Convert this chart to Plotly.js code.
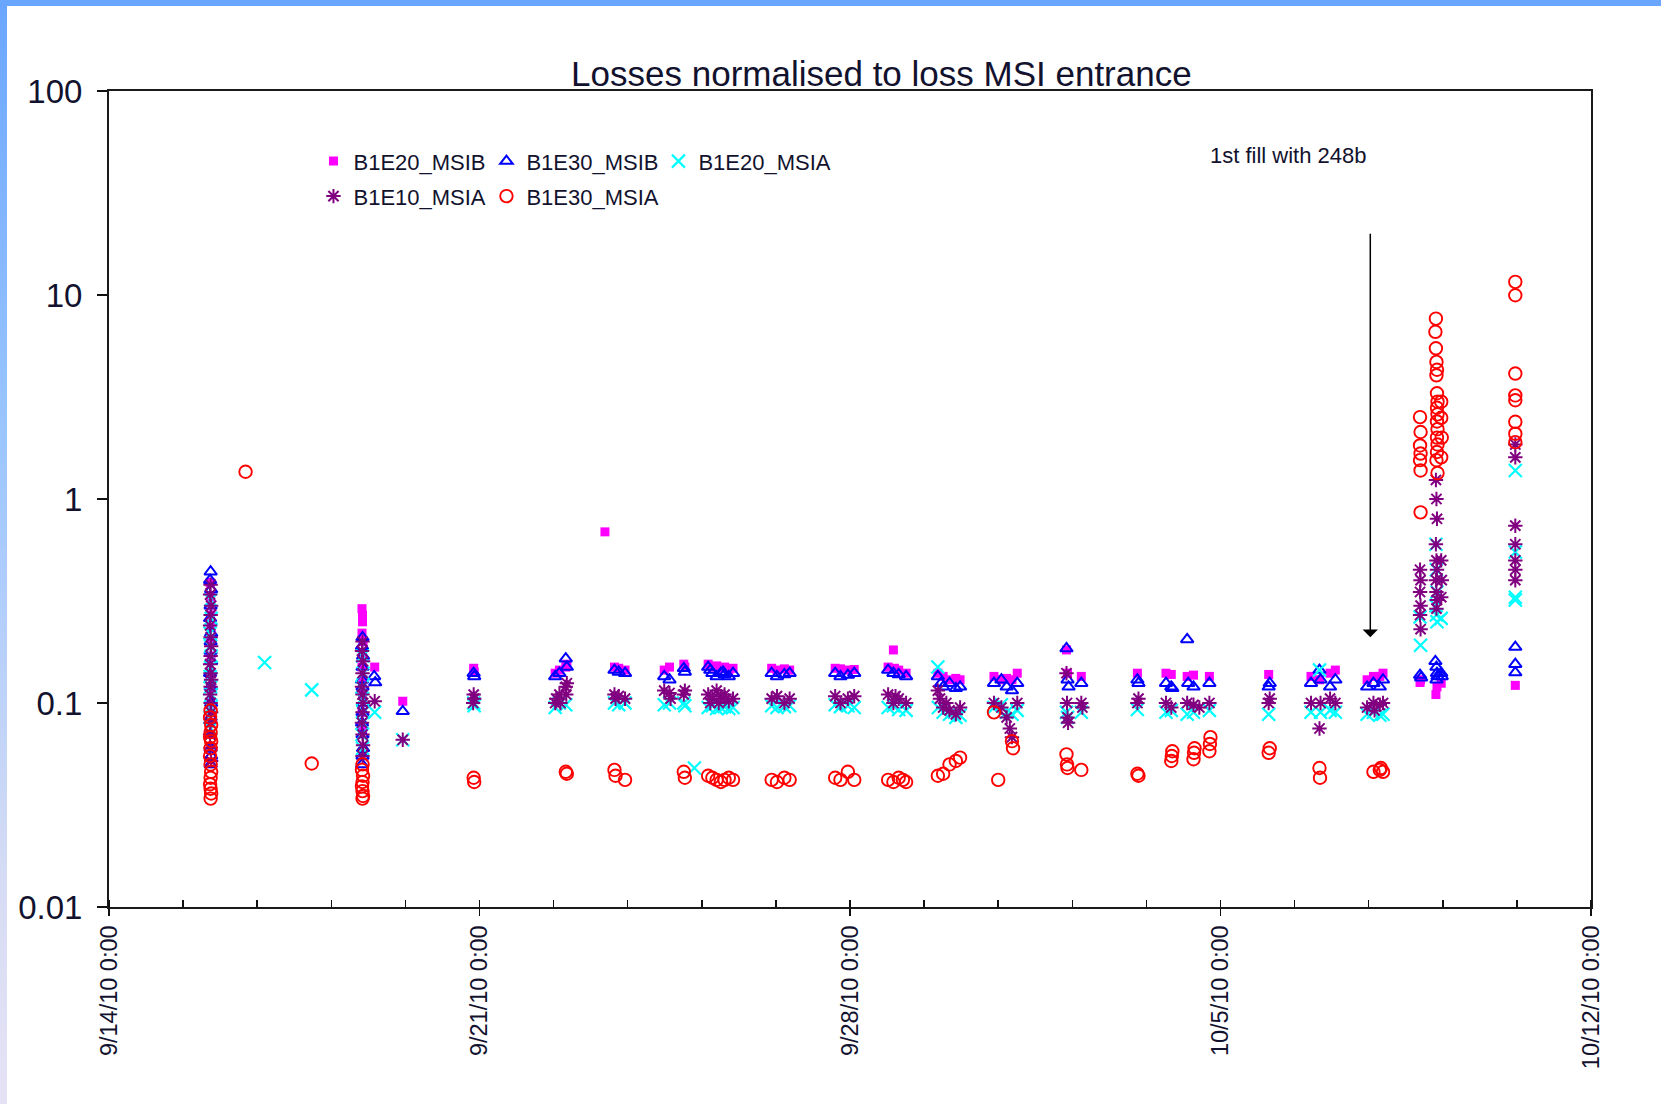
<!DOCTYPE html>
<html>
<head>
<meta charset="utf-8">
<script src="https://cdn.plot.ly/plotly-3.0.1.min.js"></script>
<style>
  html, body { margin: 0; padding: 0; background: #ffffff; overflow: hidden; }
  #wrap { position: relative; width: 1661px; height: 1104px; }
  #chart { position: absolute; left: 0; top: 0; width: 1661px; height: 1104px; }
  #topband { position: absolute; left: 0; top: 0; width: 1661px; height: 6px; background: #6aa6fe; }
  #leftband { position: absolute; left: 0; top: 0; width: 7px; height: 1104px;
              background: linear-gradient(#6aa6fe, #9cc6ff 40%, #d6dcf4 80%, #e6e2f6); }
</style>
</head>
<body>
<div id="wrap">
  <div id="chart"></div>
  <div id="topband"></div>
  <div id="leftband"></div>
</div>
<script>
// ---- data: [day offset from 9/14/10 0:00, value] ----
const seriesNames = ['B1E20_MSIB', 'B1E30_MSIB', 'B1E20_MSIA', 'B1E10_MSIA', 'B1E30_MSIA'];
const xTickLabels = ['9/14/10 0:00', '9/21/10 0:00', '9/28/10 0:00', '10/5/10 0:00', '10/12/10 0:00'];
const yTickLabels = ['0.01', '0.1', '1', '10', '100'];
const yTickValues = [0.01, 0.1, 1, 10, 100];

const e20b = [
 [1.91,0.39],[1.92,0.33],[1.92,0.27],[1.93,0.235],[1.92,0.2],[1.93,0.17],[1.92,0.14],[1.93,0.12],[1.92,0.1],
 [4.78,0.29],[4.79,0.27],[4.79,0.25],[4.78,0.22],[4.80,0.2],[4.79,0.17],[4.78,0.15],[4.80,0.13],[4.79,0.11],[4.78,0.09],[4.79,0.075],
 [5.02,0.15],[5.55,0.102],
 [6.89,0.148],[6.90,0.142],
 [8.43,0.14],[8.51,0.145],[8.63,0.15],[8.65,0.155],
 [9.37,0.69],
 [9.55,0.15],[9.63,0.148],[9.75,0.145],
 [10.49,0.145],[10.59,0.15],
 [10.86,0.155],[10.88,0.15],
 [11.32,0.155],[11.40,0.15],[11.48,0.152],[11.56,0.148],[11.63,0.15],[11.71,0.145],[11.79,0.148],
 [12.52,0.148],[12.62,0.145],[12.76,0.147],[12.86,0.145],
 [13.72,0.148],[13.82,0.147],[13.96,0.145],[14.08,0.146],
 [14.72,0.15],[14.82,0.182],[14.84,0.148],[14.92,0.145],[15.06,0.14],
 [15.66,0.14],[15.76,0.135],[15.88,0.13],[16.00,0.132],[16.08,0.13],
 [16.72,0.135],[16.86,0.13],[16.96,0.132],[17.06,0.13],[17.16,0.14],
 [18.09,0.182],[18.11,0.14],[18.37,0.135],
 [19.43,0.14],
 [19.97,0.14],[20.07,0.138],[20.37,0.135],[20.49,0.137],[20.79,0.135],
 [21.91,0.138],
 [22.71,0.135],[22.87,0.13],[23.07,0.14],[23.17,0.145],
 [23.77,0.13],[23.89,0.135],[24.01,0.135],[24.07,0.14],
 [24.77,0.126],[24.78,0.13],
 [25.07,0.11],[25.09,0.12],[25.17,0.125],
 [26.57,0.122]
];

const e30b = [
 [1.92,0.44],[1.91,0.4],[1.93,0.36],[1.92,0.3],[1.91,0.26],[1.93,0.22],[1.92,0.2],[1.92,0.18],[1.93,0.16],[1.91,0.14],[1.92,0.12],[1.93,0.1],[1.92,0.085],[1.91,0.07],[1.92,0.06],[1.93,0.055],[1.92,0.05],
 [4.79,0.21],[4.78,0.19],[4.80,0.17],[4.79,0.15],[4.78,0.13],[4.79,0.12],[4.80,0.1],[4.79,0.09],[4.78,0.08],[4.79,0.07],[4.80,0.06],[4.79,0.055],[4.78,0.05],
 [5.03,0.126],[5.01,0.135],[5.55,0.091],
 [6.89,0.14],[6.90,0.135],
 [8.43,0.135],[8.51,0.14],[8.63,0.165],[8.65,0.15],
 [9.55,0.145],[9.63,0.142],[9.75,0.14],
 [10.49,0.135],[10.59,0.13],
 [10.86,0.148],[10.88,0.142],
 [11.32,0.15],[11.36,0.145],[11.40,0.14],[11.48,0.135],[11.56,0.14],[11.60,0.142],[11.63,0.138],[11.71,0.135],[11.79,0.14],
 [12.52,0.14],[12.62,0.135],[12.76,0.138],[12.86,0.14],
 [13.72,0.14],[13.82,0.135],[13.96,0.137],[14.08,0.14],
 [14.72,0.145],[14.82,0.14],[14.92,0.138],[15.06,0.135],
 [15.66,0.135],[15.72,0.125],[15.76,0.12],[15.88,0.125],[16.00,0.118],[16.08,0.12],
 [16.72,0.125],[16.86,0.13],[16.96,0.12],[17.06,0.115],[17.16,0.125],
 [18.09,0.185],[18.11,0.13],[18.13,0.12],[18.37,0.125],
 [19.43,0.13],[19.45,0.125],
 [19.97,0.125],[20.07,0.12],[20.09,0.118],[20.37,0.205],[20.39,0.125],[20.49,0.12],[20.79,0.125],
 [21.91,0.12],[21.93,0.125],
 [22.71,0.125],[22.87,0.145],[22.89,0.13],[23.07,0.12],[23.17,0.13],
 [23.77,0.12],[23.89,0.125],[24.01,0.12],[24.07,0.13],
 [24.77,0.137],[24.79,0.133],
 [25.06,0.16],[25.08,0.15],[25.09,0.14],[25.10,0.135],[25.08,0.13],[25.17,0.14],[25.18,0.135],
 [26.57,0.188],[26.57,0.155],[26.57,0.141]
];

const e20a = [
 [1.92,0.32],[1.93,0.26],[1.91,0.22],[1.92,0.19],[1.93,0.17],[1.92,0.15],[1.91,0.135],[1.92,0.12],[1.93,0.11],[1.92,0.095],[1.91,0.085],[1.92,0.075],
 [2.94,0.158],[3.83,0.116],
 [4.79,0.17],[4.80,0.14],[4.78,0.12],[4.79,0.105],[4.80,0.09],[4.79,0.08],[4.78,0.07],[4.79,0.06],
 [5.02,0.09],[5.55,0.066],
 [6.89,0.1],[6.90,0.097],
 [8.43,0.095],[8.51,0.1],[8.63,0.098],
 [9.55,0.1],[9.63,0.098],[9.75,0.1],
 [10.49,0.098],[10.59,0.1],
 [10.86,0.1],[10.88,0.097],[11.06,0.048],
 [11.32,0.095],[11.40,0.097],[11.48,0.094],[11.56,0.095],[11.63,0.096],[11.71,0.094],[11.79,0.095],
 [12.52,0.097],[12.62,0.095],[12.76,0.096],[12.86,0.097],
 [13.72,0.098],[13.82,0.096],[13.96,0.097],[14.08,0.095],
 [14.72,0.095],[14.82,0.097],[14.92,0.093],[15.06,0.092],
 [15.66,0.15],[15.67,0.095],[15.76,0.09],[15.88,0.088],[16.00,0.085],[16.08,0.087],
 [16.72,0.095],[16.86,0.098],[16.96,0.09],[17.06,0.088],[17.16,0.092],
 [18.09,0.09],[18.11,0.085],[18.37,0.09],
 [19.43,0.093],
 [19.97,0.09],[20.07,0.092],[20.37,0.088],[20.49,0.09],[20.79,0.092],
 [21.91,0.088],
 [22.71,0.09],[22.87,0.145],[22.89,0.09],[23.07,0.092],[23.17,0.09],
 [23.77,0.088],[23.89,0.09],[24.01,0.087],[24.07,0.088],
 [24.77,0.264],[24.78,0.192],
 [25.07,0.6],[25.08,0.45],[25.09,0.35],[25.07,0.3],[25.08,0.27],[25.09,0.25],[25.17,0.26],
 [26.57,1.38],[26.57,0.55],[26.57,0.33],[26.57,0.32]
];

const e10a = [
 [1.92,0.38],[1.91,0.34],[1.93,0.3],[1.92,0.27],[1.91,0.24],[1.92,0.21],[1.93,0.19],[1.92,0.17],[1.91,0.155],[1.92,0.14],[1.93,0.13],[1.92,0.12],[1.91,0.11],[1.92,0.1],[1.93,0.09],[1.92,0.08],[1.91,0.07],[1.92,0.06],[1.93,0.052],
 [4.79,0.2],[4.78,0.18],[4.80,0.16],[4.79,0.14],[4.78,0.12],[4.79,0.11],[4.80,0.1],[4.79,0.09],[4.78,0.08],[4.79,0.07],[4.80,0.062],[4.79,0.055],
 [5.02,0.102],[5.55,0.066],
 [6.89,0.11],[6.90,0.105],[6.88,0.1],
 [8.43,0.1],[8.45,0.105],[8.51,0.11],[8.53,0.1],[8.63,0.12],[8.65,0.125],[8.64,0.11],
 [9.55,0.11],[9.57,0.105],[9.63,0.108],[9.75,0.105],
 [10.49,0.115],[10.59,0.112],[10.61,0.105],
 [10.86,0.11],[10.88,0.115],
 [11.32,0.11],[11.36,0.1],[11.40,0.105],[11.48,0.115],[11.52,0.1],[11.56,0.108],[11.63,0.11],[11.71,0.102],[11.79,0.105],
 [12.52,0.105],[12.62,0.108],[12.76,0.1],[12.86,0.105],
 [13.72,0.108],[13.82,0.1],[13.96,0.105],[14.08,0.108],
 [14.72,0.11],[14.82,0.1],[14.86,0.108],[14.92,0.105],[15.06,0.1],
 [15.66,0.115],[15.70,0.105],[15.76,0.095],[15.82,0.1],[15.88,0.092],[16.00,0.088],[16.08,0.095],
 [16.72,0.1],[16.86,0.095],[16.96,0.085],[17.02,0.075],[17.06,0.068],[17.16,0.1],
 [18.09,0.14],[18.10,0.1],[18.11,0.085],[18.12,0.08],[18.37,0.1],[18.39,0.095],
 [19.43,0.1],[19.45,0.105],
 [19.97,0.1],[20.07,0.095],[20.37,0.1],[20.49,0.098],[20.60,0.095],[20.79,0.1],
 [21.91,0.1],[21.93,0.105],
 [22.71,0.1],[22.87,0.075],[22.89,0.1],[23.07,0.105],[23.17,0.1],
 [23.77,0.095],[23.89,0.1],[23.91,0.092],[24.01,0.098],[24.07,0.1],
 [24.77,0.45],[24.78,0.4],[24.77,0.35],[24.78,0.3],[24.77,0.27],[24.78,0.23],
 [25.07,1.24],[25.08,1.0],[25.09,0.8],[25.07,0.6],[25.08,0.5],[25.09,0.45],[25.07,0.4],[25.08,0.35],[25.09,0.32],[25.08,0.29],[25.17,0.5],[25.18,0.4],[25.17,0.33],
 [26.57,1.85],[26.57,1.6],[26.57,0.74],[26.57,0.6],[26.57,0.5],[26.57,0.45],[26.57,0.4]
];

const e30a = [
 [1.92,0.092],[1.91,0.085],[1.93,0.078],[1.92,0.072],[1.91,0.068],[1.93,0.065],[1.92,0.06],[1.91,0.055],[1.92,0.05],[1.93,0.046],[1.92,0.043],[1.91,0.04],[1.92,0.038],[1.93,0.036],[1.92,0.034],
 [2.58,1.36],[3.83,0.0505],
 [4.79,0.05],[4.78,0.047],[4.80,0.044],[4.79,0.041],[4.78,0.039],[4.79,0.037],[4.80,0.035],[4.79,0.034],
 [6.89,0.043],[6.90,0.041],
 [8.63,0.046],[8.65,0.045],
 [9.55,0.047],[9.57,0.044],[9.75,0.042],
 [10.86,0.046],[10.88,0.043],
 [11.32,0.044],[11.40,0.043],[11.48,0.042],[11.56,0.041],[11.63,0.042],[11.71,0.043],[11.79,0.042],
 [12.52,0.042],[12.62,0.041],[12.76,0.043],[12.86,0.042],
 [13.72,0.043],[13.82,0.042],[13.96,0.046],[14.08,0.042],
 [14.72,0.042],[14.82,0.041],[14.92,0.043],[15.00,0.042],[15.06,0.041],
 [15.66,0.044],[15.76,0.045],[15.88,0.05],[16.00,0.052],[16.08,0.054],
 [16.72,0.09],[16.80,0.042],[17.06,0.065],[17.08,0.06],
 [18.09,0.056],[18.10,0.05],[18.11,0.048],[18.37,0.047],
 [19.43,0.045],[19.45,0.044],
 [20.07,0.052],[20.08,0.055],[20.09,0.058],[20.49,0.053],[20.50,0.057],[20.51,0.06],[20.79,0.058],[20.80,0.063],[20.81,0.068],
 [21.91,0.057],[21.93,0.06],
 [22.87,0.048],[22.88,0.043],
 [23.89,0.046],[24.01,0.047],[24.03,0.048],[24.07,0.046],
 [24.77,2.52],[24.78,2.13],[24.77,1.83],[24.78,1.67],[24.77,1.55],[24.78,1.38],[24.78,0.86],
 [25.07,7.66],[25.06,6.6],[25.07,5.48],[25.08,4.7],[25.09,4.3],[25.08,4.04],[25.09,3.3],[25.10,3.0],[25.09,2.8],[25.10,2.6],[25.09,2.4],[25.10,2.2],[25.09,2.0],[25.10,1.85],[25.09,1.7],[25.08,1.55],[25.10,1.34],[25.17,3.0],[25.17,2.5],[25.18,2.0],[25.17,1.6],
 [26.57,11.6],[26.57,9.97],[26.57,4.12],[26.57,3.22],[26.57,3.05],[26.57,2.39],[26.57,2.09],[26.57,1.9]
];

// annotation data
const arrowDay = 23.83, arrowTipValue = 0.21;
const annoText = '1st fill with 248b';

// ---- build ----
const DAY = 86400000;
const BASE = Date.UTC(2010, 8, 14);
const toX = d => BASE + d * DAY;
const xs = arr => arr.map(p => toX(p[0]));
const ys = arr => arr.map(p => p[1]);

const TXT = '#12122e';
const FONT = 'Liberation Sans, Arial, sans-serif';

const styles = [
  {data: e20b, marker: {symbol: 'square', size: 9, color: '#ff00ff'}, legend: 'legend'},
  {data: e30b, marker: {symbol: 'triangle-up-open', size: 11, color: '#0000ff', line: {width: 2}}, legend: 'legend2'},
  {data: e20a, marker: {symbol: 'x-thin-open', size: 13, color: '#00ffff', line: {width: 2.2, color: '#00ffff'}}, legend: 'legend3'},
  {data: e10a, marker: {symbol: 'asterisk-open', size: 12, color: '#800080', line: {width: 2, color: '#800080'}}, legend: 'legend4'},
  {data: e30a, marker: {symbol: 'circle-open', size: 12.5, color: '#ff0000', line: {width: 1.9}}, legend: 'legend5'}
];

const traces = styles.map((s, i) => ({
  type: 'scatter', mode: 'markers', name: seriesNames[i],
  x: xs(s.data), y: ys(s.data), marker: s.marker, legend: s.legend,
  xaxis: 'x', yaxis: 'y', hoverinfo: 'x+y+name'
}));

const W = 1661, H = 1104;
const L = 108.5, R = 1590.7, T = 90.7, B = 906.7;
const px = v => (v - L) / (R - L);
const py = v => (B - v) / (B - T);

function leg(xpx, ypx) {
  return {x: px(xpx), y: py(ypx), xanchor: 'left', yanchor: 'middle', orientation: 'h',
          bgcolor: 'rgba(0,0,0,0)', borderwidth: 0, font: {family: FONT, size: 22, color: TXT},
          itemwidth: 30, tracegroupgap: 0};
}

const layout = {
  width: W, height: H,
  margin: {l: L, r: W - R, t: T, b: H - B, pad: 0},
  paper_bgcolor: 'rgba(0,0,0,0)', plot_bgcolor: '#ffffff',
  showlegend: true,
  title: {text: 'Losses normalised to loss MSI entrance', font: {family: FONT, size: 35, color: TXT},
          xref: 'paper', x: px(881), xanchor: 'center', yref: 'container', y: 1 - 74 / H, yanchor: 'middle'},
  xaxis: {
    type: 'date', range: ['2010-09-14', '2010-10-12'],
    tick0: '2010-09-14', dtick: 7 * DAY, tickformat: '%-m/%-d/%y %-H:%M',
    tickangle: -90, ticks: 'outside', ticklen: 7, tickwidth: 1.5, tickcolor: '#111',
    ticklabelstandoff: 0,
    minor: {ticks: 'inside', ticklen: 7, tickwidth: 1.5, tickcolor: '#111', dtick: 1.4 * DAY, tick0: '2010-09-14', showgrid: false},
    tickfont: {family: FONT, size: 23.5, color: TXT},
    showline: true, linewidth: 2, linecolor: '#1a1a1a', mirror: true,
    showgrid: false, zeroline: false, fixedrange: true
  },
  xaxis2: {
    type: 'date', range: ['2010-09-14', '2010-10-12'], overlaying: 'x', anchor: 'y', side: 'bottom',
    tick0: '2010-09-14', dtick: 7 * DAY, ticks: 'inside', ticklen: 9, tickwidth: 1.5, tickcolor: '#111',
    showticklabels: false, showline: false, showgrid: false, zeroline: false, fixedrange: true
  },
  yaxis: {
    type: 'log', range: [-2, 2], tickvals: yTickValues, ticktext: yTickLabels,
    ticks: 'outside', ticklen: 10, tickwidth: 1.5, tickcolor: '#111',
    ticklabelstandoff: 8,
    tickfont: {family: FONT, size: 33, color: TXT},
    showline: true, linewidth: 2, linecolor: '#1a1a1a', mirror: true,
    showgrid: false, zeroline: false, fixedrange: true
  },
  legend: leg(313, 161), legend2: leg(486, 161), legend3: leg(658, 161),
  legend4: leg(313, 196), legend5: leg(486, 196),
  annotations: [
    {xref: 'paper', yref: 'paper', x: px(1288.5), y: py(155), text: annoText, showarrow: false,
     font: {family: FONT, size: 22, color: TXT}, xanchor: 'center', yanchor: 'middle'},
    {xref: 'x', yref: 'y', x: toX(arrowDay), y: Math.log10(arrowTipValue), text: '', showarrow: true,
     axref: 'pixel', ayref: 'pixel', ax: 0, ay: -405, arrowhead: 1, arrowsize: 1.7, arrowwidth: 1.5,
     arrowcolor: '#000000', standoff: 0}
  ]
};

Plotly.newPlot('chart', traces, layout, {staticPlot: true, displayModeBar: false});
</script>
</body>
</html>
